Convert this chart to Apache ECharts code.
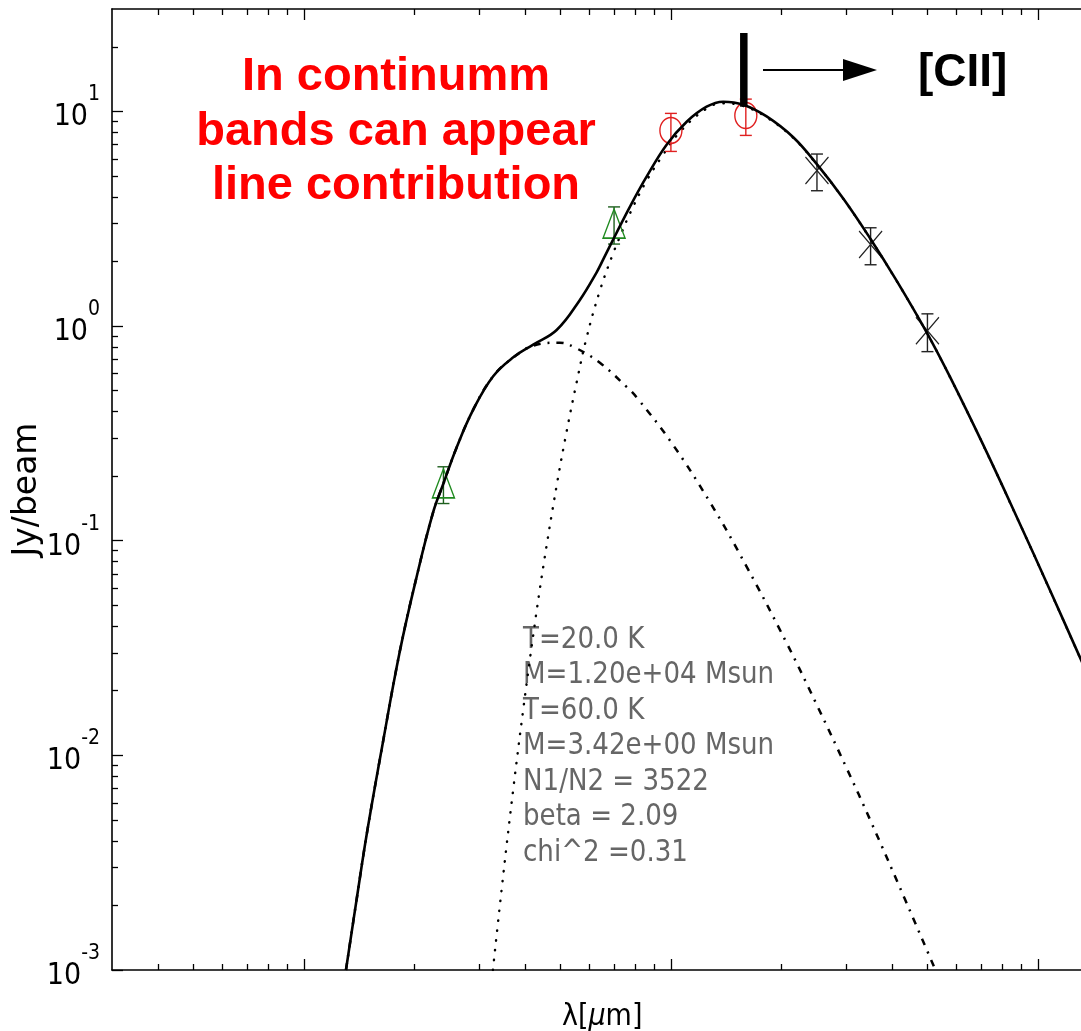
<!DOCTYPE html>
<html>
<head>
<meta charset="utf-8">
<title>Two-component SED fit</title>
<script src="https://cdn.jsdelivr.net/npm/echarts@6/dist/echarts.min.js"></script>
<style>
  html, body { margin: 0; padding: 0; background: #ffffff; }
  #chart { width: 1081px; height: 1031px; }
</style>
</head>
<body>
<div id="chart"></div>
<script>
// ---- Photometry (Jy/beam) with 1-sigma errors ----
const mipsWave = [24, 70];
const mipsFlux = [0.185, 3.0];
const mipsErr = [0.036, 0.59];

const pacsWave = [100, 160];
const pacsFlux = [8.15, 9.57];
const pacsErr = [1.64, 1.84];

const spireWave = [250, 350, 500];
const spireFlux = [5.3, 2.4, 0.95];
const spireErr = [1.03, 0.47, 0.19];

// ---- Model curves ----
// total (cold + warm)
const totalWave = [13.02, 13.94, 14.82, 16.28, 18.26, 20.28, 22.51, 23.97, 26.07, 28.93, 32.79, 37.19, 42.15, 48.83,
  56.49, 62.76, 65.4, 70.4, 77.3, 85.85, 97.34, 110.4, 125.1, 138.8, 157.4, 182.3, 215.4, 249.5,
  294.8, 348.5, 412, 497.5, 575.6, 709.6, 875, 1078, 1310, 1485];
const totalFlux = [0.001, 0.002165, 0.004255, 0.01062, 0.0306, 0.0678, 0.1361, 0.1837, 0.272, 0.408, 0.584, 0.715, 0.819, 0.958,
  1.324, 1.780, 2.044, 2.628, 3.594, 4.964, 6.998, 8.954, 10.52, 11.10, 10.75, 9.478, 7.58, 5.695,
  3.929, 2.572, 1.627, 0.935, 0.5813, 0.2795, 0.1294, 0.0589, 0.0279, 0.0171];

// cold component, T = 20 K
const coldWave = [32.73, 34.92, 37.19, 39.6, 42.15, 44.87, 48.83, 51.98, 55.34, 58.93, 64.05, 69.6, 73.4, 77.3,
  84.98, 94.35, 105.8, 125.1, 138.8, 157.4, 182.3, 215.4, 249.5,
  294.8, 348.5, 412, 497.5, 575.6, 709.6, 875, 1078, 1310, 1485];
const coldFlux = [0.001, 0.002765, 0.006957, 0.01641, 0.03628, 0.07522, 0.1808, 0.3226, 0.5458, 0.8845, 1.464, 2.182, 2.722, 3.341,
  4.609, 6.133, 8.017, 10.31, 10.91, 10.60, 9.387, 7.535, 5.675,
  3.92, 2.567, 1.624, 0.934, 0.580, 0.279, 0.129, 0.0588, 0.0279, 0.0171];

// warm component, T = 60 K
const warmWave = [13.02, 13.94, 14.82, 16.28, 18.26, 20.28, 22.51, 23.97, 26.07, 28.93, 32.79, 37.19, 42.15, 49.83,
  55.34, 64.05, 75.73, 80.64, 100, 127.8, 160.1, 206.7, 249.5, 299.8, 350.8, 434.0, 524.0, 540.8];
const warmFlux = [0.001, 0.002165, 0.004255, 0.01062, 0.0306, 0.0678, 0.1361, 0.1837, 0.272, 0.408, 0.584, 0.713, 0.81, 0.837,
  0.787, 0.674, 0.521, 0.4657, 0.2888, 0.151, 0.07678, 0.03337, 0.01725, 0.00886, 0.00491, 0.00214, 0.001014, 0.000898];

// [CII] 158 micron marker
const ciiWave = 158;
const ciiSpan = [10.5, 23.2];

// ---- Axis ticks and labels ----
const xMajorTicks = [10, 100, 1000];
const xMinorTicks = [4, 5, 6, 7, 8, 9, 20, 30, 40, 50, 60, 70, 80, 90, 200, 300, 400, 500, 600, 700, 800, 900];
const yMajorTicks = [0.001, 0.01, 0.1, 1, 10];
const yMinorTicks = [0.002, 0.003, 0.004, 0.005, 0.006, 0.007, 0.008, 0.009,
  0.02, 0.03, 0.04, 0.05, 0.06, 0.07, 0.08, 0.09,
  0.2, 0.3, 0.4, 0.5, 0.6, 0.7, 0.8, 0.9,
  2, 3, 4, 5, 6, 7, 8, 9, 20];
const yTickExponents = ['-3', '-2', '-1', '0', '1'];

// ---- Annotations ----
const noteLines = ['In continumm', 'bands can appear', 'line contribution'];
const fitNotes = ['T=20.0 K', 'M=1.20e+04 Msun', 'T=60.0 K', 'M=3.42e+00 Msun', 'N1/N2 = 3522', 'beta = 2.09', 'chi^2 =0.31'];

const plotFont = "'DejaVu Sans Condensed', 'DejaVu Sans', sans-serif";
const boldFont = "'Liberation Sans', Arial, sans-serif";

const pairs = (xs, ys) => xs.map((x, i) => [x, ys[i]]);

function xAxisDef(position, ticks, len, showLine) {
  return {
    type: 'log', logBase: 10, min: 3, max: 2000, position: position, gridIndex: 0,
    axisLine: { show: showLine, onZero: false, lineStyle: { color: '#000', width: 1.6 } },
    axisTick: { show: true, inside: true, length: len, customValues: ticks, lineStyle: { color: '#000', width: 1.3 } },
    axisLabel: { show: false }, splitLine: { show: false }, minorTick: { show: false }
  };
}

function yAxisDef(ticks, len, showLine) {
  return {
    type: 'log', logBase: 10, min: 0.001, max: 30, position: 'left', gridIndex: 0,
    axisLine: { show: showLine, onZero: false, lineStyle: { color: '#000', width: 1.6 } },
    axisTick: { show: true, inside: true, length: len, customValues: ticks, lineStyle: { color: '#000', width: 1.3 } },
    axisLabel: { show: false }, splitLine: { show: false }, minorTick: { show: false }
  };
}

const xBottom = xAxisDef('bottom', xMajorTicks, 11, true);
xBottom.name = 'λ[{i|μ}m]';
xBottom.nameLocation = 'middle';
xBottom.nameGap = 32;
xBottom.nameMoveOverlap = false;
xBottom.nameTextStyle = {
  fontFamily: plotFont, fontSize: 30, color: '#000', padding: [0, 56, 0, 0],
  rich: { i: { fontFamily: plotFont, fontSize: 30, fontStyle: 'italic', color: '#000' } }
};

// decade labels: "10" sitting low, exponent raised; the spacer fixes the line box height
const yLeft = yAxisDef(yMajorTicks, 11, true);
yLeft.axisLabel = {
  show: true, customValues: yMajorTicks, margin: 12, color: '#000', padding: [0, 0, 6, 0],
  formatter: function (v) {
    const k = Math.round(Math.log10(v)) + 3;
    return '{b|10}{s|' + yTickExponents[k] + '}{z|\u200b}';
  },
  rich: {
    b: { fontFamily: plotFont, fontSize: 30, lineHeight: 30, color: '#000', verticalAlign: 'bottom' },
    s: { fontFamily: plotFont, fontSize: 21, lineHeight: 22, color: '#000', verticalAlign: 'top' },
    z: { fontSize: 10, lineHeight: 48, width: 0, verticalAlign: 'middle' }
  }
};
yLeft.name = 'Jy/beam';
yLeft.nameLocation = 'middle';
yLeft.nameRotate = 90;
yLeft.nameGap = 68;
yLeft.nameMoveOverlap = false;
yLeft.nameTextStyle = { fontFamily: 'DejaVu Sans', fontSize: 33, color: '#000' };

function errorBars(wave, flux, err, color) {
  return {
    type: 'custom', xAxisIndex: 0, yAxisIndex: 0, silent: true, z: 3,
    data: wave.map((w, i) => [w, flux[i] - err[i], flux[i] + err[i]]),
    encode: { x: 0, y: [1, 2] },
    renderItem: function (params, api) {
      const lo = api.coord([api.value(0), api.value(1)]);
      const hi = api.coord([api.value(0), api.value(2)]);
      const cap = 6;
      const st = { stroke: color, lineWidth: 1.4, fill: null };
      return {
        type: 'group',
        children: [
          { type: 'line', shape: { x1: hi[0], y1: hi[1], x2: lo[0], y2: lo[1] }, style: st },
          { type: 'line', shape: { x1: hi[0] - cap, y1: hi[1], x2: hi[0] + cap, y2: hi[1] }, style: st },
          { type: 'line', shape: { x1: lo[0] - cap, y1: lo[1], x2: lo[0] + cap, y2: lo[1] }, style: st }
        ]
      };
    }
  };
}

function markers(wave, flux, symbol, size, color, width) {
  return {
    type: 'scatter', xAxisIndex: 0, yAxisIndex: 0, silent: true, z: 3,
    data: pairs(wave, flux), symbol: symbol, symbolSize: size,
    itemStyle: { color: 'rgba(0,0,0,0)', borderColor: color, borderWidth: width, opacity: 1 }
  };
}

const chart = echarts.init(document.getElementById('chart'), null, { renderer: 'canvas' });

chart.setOption({
  animation: false,
  backgroundColor: '#ffffff',
  grid: { left: 112, top: 9, width: 1036.4, height: 961, containLabel: false, outerBoundsMode: 'none' },
  xAxis: [
    xBottom,
    xAxisDef('bottom', xMinorTicks, 6, false),
    xAxisDef('top', xMajorTicks, 11, true),
    xAxisDef('top', xMinorTicks, 6, false)
  ],
  yAxis: [
    yLeft,
    yAxisDef(yMinorTicks, 6, false)
  ],
  series: [
    {
      type: 'line', name: 'warm', data: pairs(warmWave, warmFlux), symbol: 'none', smooth: 0.4, silent: true, z: 2,
      lineStyle: { color: '#000', width: 2.5, type: [7, 7, 2, 7] }
    },
    {
      type: 'line', name: 'cold', data: pairs(coldWave, coldFlux), symbol: 'none', smooth: 0.4, silent: true, z: 2,
      lineStyle: { color: '#000', width: 2.4, type: [0.4, 9.5], cap: 'round' }
    },
    {
      type: 'line', name: 'total', data: pairs(totalWave, totalFlux), symbol: 'none', smooth: 0.4, silent: true, z: 4,
      lineStyle: { color: '#000', width: 2.6 }
    },
    errorBars(mipsWave, mipsFlux, mipsErr, '#1d5e1d'),
    errorBars(pacsWave, pacsFlux, pacsErr, '#e02020'),
    errorBars(spireWave, spireFlux, spireErr, '#222222'),
    markers(mipsWave, mipsFlux, 'triangle', [22, 29], '#1f8a1f', 1.5),
    markers(pacsWave, pacsFlux, 'circle', [22, 26], '#e02020', 1.5),
    markers(spireWave, spireFlux, 'path://M0,0L10,10M10,0L0,10', [23, 27], '#222222', 1.3),
    {
      type: 'line', name: '[CII]', data: [[ciiWave, ciiSpan[0]], [ciiWave, ciiSpan[1]]], symbol: 'none', silent: true, z: 6,
      lineStyle: { color: '#000', width: 7.5, cap: 'butt' }
    }
  ],
  graphic: [
    { type: 'text', x: 396, y: 77, silent: true, style: { text: noteLines[0], fill: '#ff0000', fontSize: 47, fontWeight: 'bold', fontFamily: boldFont, align: 'center', verticalAlign: 'middle' } },
    { type: 'text', x: 396, y: 132, silent: true, style: { text: noteLines[1], fill: '#ff0000', fontSize: 47, fontWeight: 'bold', fontFamily: boldFont, align: 'center', verticalAlign: 'middle' } },
    { type: 'text', x: 396, y: 186, silent: true, style: { text: noteLines[2], fill: '#ff0000', fontSize: 47, fontWeight: 'bold', fontFamily: boldFont, align: 'center', verticalAlign: 'middle' } },
    { type: 'text', x: 918, y: 73, silent: true, style: { text: '[CII]', fill: '#000', fontSize: 46, fontWeight: 'bold', fontFamily: boldFont, align: 'left', verticalAlign: 'middle' } },
    { type: 'line', silent: true, shape: { x1: 763, y1: 70, x2: 846, y2: 70 }, style: { stroke: '#000', lineWidth: 2 } },
    { type: 'polygon', silent: true, shape: { points: [[843, 59], [877, 70], [843, 81]] }, style: { fill: '#000' } },
    { type: 'text', x: 523, y: 622, scaleX: 0.87, silent: true, style: { text: fitNotes.join('\n'), fill: '#666666', fontSize: 30, fontFamily: 'DejaVu Sans', lineHeight: 35.5, align: 'left', verticalAlign: 'top' } }
  ]
});
</script>
</body>
</html>
